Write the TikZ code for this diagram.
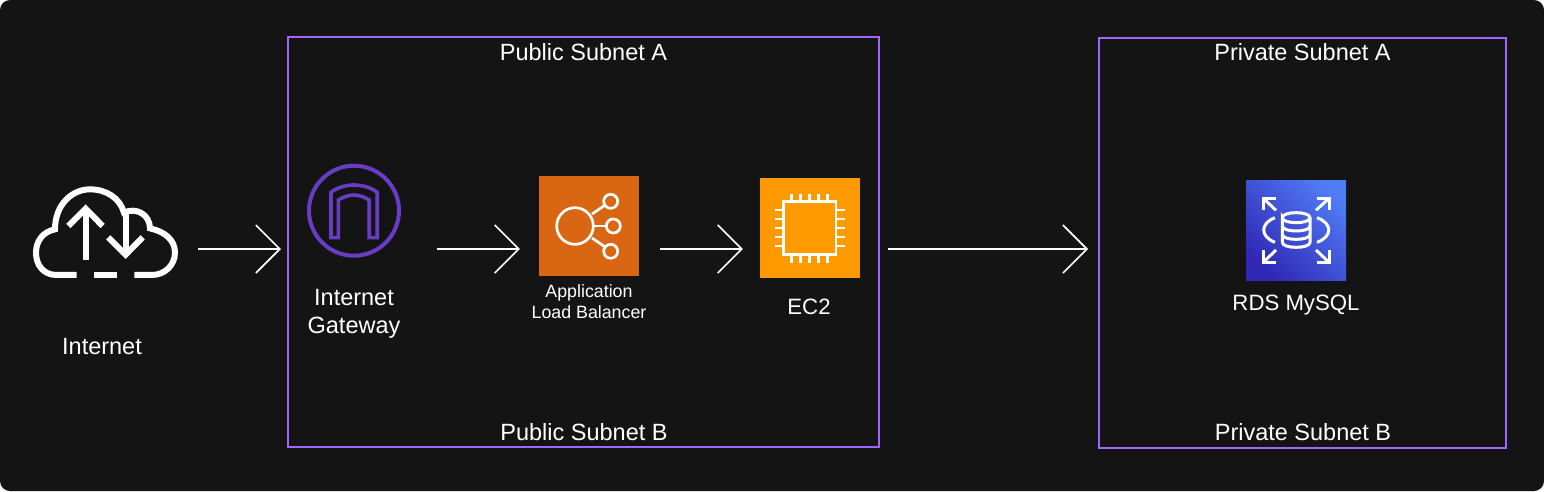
\documentclass[tikz,border=0pt]{standalone}
\usepackage{fontspec}
\setmainfont{Liberation Sans}
\usetikzlibrary{arrows.meta}
\definecolor{panelbg}{HTML}{141414}
\definecolor{subnetline}{HTML}{A166FF}
\definecolor{gatewayline}{HTML}{693CC5}
\definecolor{albfill}{HTML}{D86613}
\definecolor{ecfill}{HTML}{FF9900}
\definecolor{rdslow}{HTML}{3028B4}
\definecolor{rdshigh}{HTML}{4F7BF5}
\tikzset{
  subnet/.style={draw=subnetline,line width=2pt,minimum width=#1,minimum height=410pt,inner sep=0pt},
  iconbox/.style={minimum size=100pt,inner sep=0pt},
  caption/.style={text=white,font=\fontsize{23.5pt}{28pt}\selectfont,align=center,inner sep=0pt},
  iconcaption/.style={text=white,font=\fontsize{22.2pt}{28pt}\selectfont,align=center,inner sep=0pt},
  smallcaption/.style={text=white,font=\fontsize{17.8pt}{21pt}\selectfont,align=center,inner sep=0pt},
  flow/.style={white,line width=2pt,-{Straight Barb[length=24pt,width=48pt,line width=1.6pt]}},
  glyph/.style={white,line width=2.7pt,line join=miter}
}
\begin{document}
\begin{tikzpicture}[x=1pt,y=-1pt]
  \useasboundingbox (0,0) rectangle (1544,491);
  \fill[panelbg,rounded corners=10pt] (0,0) rectangle (1544,491);
  \node[subnet=591pt] (publicsubnet) at (583.5,242) {};
  \node[subnet=407pt] (privatesubnet) at (1302.5,242.5) {};
  \node[caption] (publica) at (583.5,52) {Public Subnet A};
  \node[caption] (publicb) at (584,432) {Public Subnet B};
  \node[caption] (privatea) at (1302.5,52) {Private Subnet A};
  \node[caption] (privateb) at (1303,432) {Private Subnet B};
  \node[minimum width=145pt,minimum height=91pt,inner sep=0pt] (cloud) at (105.5,232) {};
  \node[circle,draw=gatewayline,line width=4pt,minimum size=90pt,inner sep=0pt] (gateway) at (354,210.7) {};
  \node[iconbox,fill=albfill] (alb) at (589,226) {};
  \node[iconbox,fill=ecfill] (ec) at (810,228) {};
  \node[iconbox,bottom color=rdslow,top color=rdshigh,shading angle=-45] (rds) at (1296,230) {};
  \node[caption] (internetlabel) at (102,346.5) {Internet};
  \node[caption] (gatewaylabel) at (354,314) {Internet\\Gateway};
  \node[smallcaption] (alblabel) at (589,301.5) {Application\\Load Balancer};
  \node[iconcaption] (eclabel) at (809,307) {EC2};
  \node[iconcaption] (rdslabel) at (1296,305.5) {RDS MySQL};
  \coordinate (flowline) at (0,249);
  \begin{scope}[shift={(0,150)},x=0.3333pt,y=-0.3333pt,white,line width=6pt]
    \draw (230,375) -- (170,375) .. controls (130,375) and (108,345) .. (108,308)
      .. controls (108,272) and (130,245) .. (165,238)
      .. controls (165,165) and (215,118) .. (270,118)
      .. controls (320,118) and (360,145) .. (372,188)
      .. controls (410,170) and (450,195) .. (450,235)
      .. controls (495,245) and (525,270) .. (525,308)
      .. controls (525,345) and (495,375) .. (455,375) -- (403,375);
    \draw (282,375) -- (351,375);
    \draw (257,330) -- (257,175);
    \draw (205,228) -- (257,176) -- (308,228);
    \draw (377,185) -- (377,314);
    \draw (325,262) -- (377,314) -- (428,262);
  \end{scope}
  \begin{scope}[shift={(0,150)},x=0.3333pt,y=-0.3333pt,gatewayline,line width=3.6pt]
    \draw (993,263) -- (993,127) .. controls (1012,112) and (1040,105) .. (1062,105)
      .. controls (1085,105) and (1113,112) .. (1132,127) -- (1132,263) -- (1108,263) -- (1108,150)
      .. controls (1092,140) and (1075,135) .. (1062,135)
      .. controls (1048,135) and (1031,140) .. (1015,150) -- (1015,263) -- cycle;
  \end{scope}
  \draw[glyph] (575,226) circle (18.3);
  \draw[glyph] (610.7,201.3) circle (7);
  \draw[glyph] (613.3,226) circle (7);
  \draw[glyph] (610.7,251.3) circle (7);
  \draw[glyph] (592,214) -- (604.5,205.5);
  \draw[glyph] (593.5,226) -- (606.3,226);
  \draw[glyph] (592,238) -- (604.5,246.5);
  \draw[glyph] (783.3,201.7) rectangle (836,254.3);
  \foreach \d in {-18,-9,0,9,18} {
    \draw[glyph] (809.7+\d,193.5) -- (809.7+\d,201.7);
    \draw[glyph] (809.7+\d,254.3) -- (809.7+\d,262.5);
    \draw[glyph] (775,228+\d) -- (783.3,228+\d);
    \draw[glyph] (836,228+\d) -- (844.5,228+\d);
  }
  \begin{scope}[shift={(1220,165)},x=0.3333pt,y=-0.3333pt,white,line width=3pt]
    \draw (187,158) .. controls (187,138) and (270,138) .. (270,158)
      .. controls (270,178) and (187,178) .. (187,158) -- (187,232)
      .. controls (187,252) and (270,252) .. (270,232) -- (270,158);
    \draw (187,183) .. controls (187,203) and (270,203) .. (270,183);
    \draw (187,208) .. controls (187,228) and (270,228) .. (270,208);
    \draw (165,158) .. controls (120,175) and (120,215) .. (165,232);
    \draw (291,158) .. controls (338,175) and (338,215) .. (291,232);
    \draw (167,100) -- (130,100) -- (130,136);
    \draw (130,100) -- (168,136);
    \draw (290,100) -- (327,100) -- (327,136);
    \draw (327,100) -- (288,136);
    \draw (167,292) -- (130,292) -- (130,255);
    \draw (130,292) -- (168,255);
    \draw (290,292) -- (327,292) -- (327,255);
    \draw (327,292) -- (288,255);
  \end{scope}
  \begin{scope}[flow]
    \draw[shorten <=20pt,shorten >=26pt] (cloud.east |- flowline) to (gateway.west |- flowline);
    \draw[shorten <=36pt,shorten >=19pt] (gateway.east |- flowline) to (alb.west |- flowline);
    \draw[shorten <=21pt,shorten >=17pt] (alb.east |- flowline) to (ec.west |- flowline);
    \draw[shorten <=28pt,shorten >=10pt] (ec.east |- flowline) to (privatesubnet.west |- flowline);
  \end{scope}
\end{tikzpicture}
\end{document}
